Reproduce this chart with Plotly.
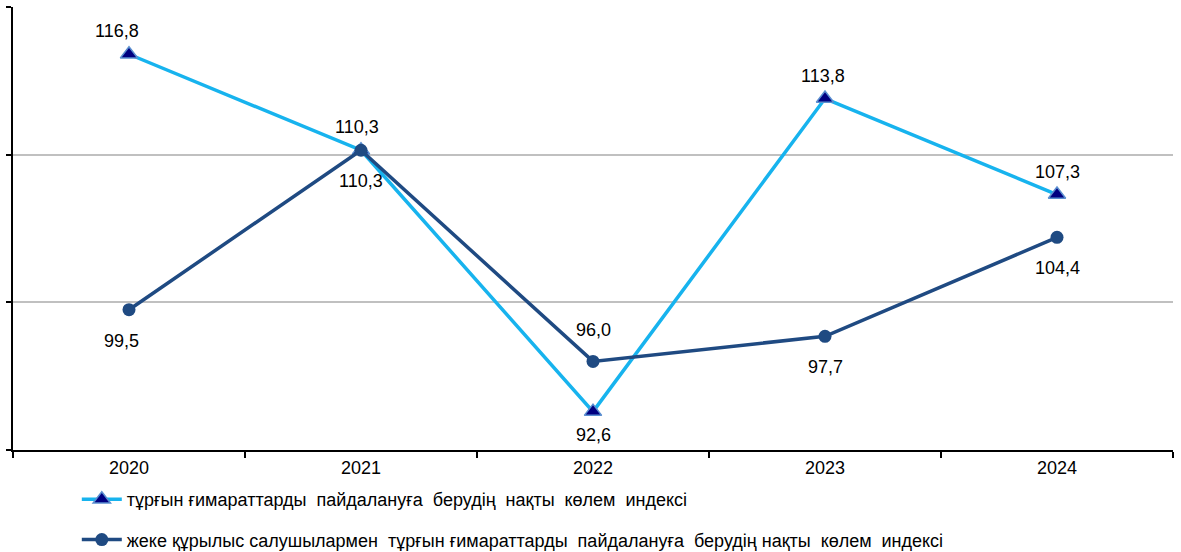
import plotly.graph_objects as go

years = ["2020", "2021", "2022", "2023", "2024"]
total_index = [116.8, 110.3, 92.6, 113.8, 107.3]
individual_index = [99.5, 110.3, 96.0, 97.7, 104.4]
name_total = "тұрғын ғимараттарды  пайдалануға  берудің  нақты  көлем  индексі"
name_individual = "жеке құрылыс салушылармен  тұрғын ғимараттарды  пайдалануға  берудің нақты  көлем  индексі"

# label side: +1 above, -1 below
total_side = [1, 1, -1, 1, 1]
indiv_side = [-1, -1, 1, -1, -1]
total_dx = [-12, -4, 0, -2, 0]
indiv_dx = [-8, 0, 0, 0, 0]

FONT = "Arial, Liberation Sans"
FS = 18

def fmt(v):
    return f"{v:.1f}".replace(".", ",")

fig = go.Figure()
fig.add_trace(go.Scatter(
    x=years, y=total_index, name=name_total.replace("  ", "\u00a0 "),
    mode="lines+markers",
    line=dict(color="#17B3EE", width=3.5),
    marker=dict(symbol="triangle-up", size=15, color="#000080",
                line=dict(color="#5B8FD0", width=1.5)),
    legendgroup="a",
))
fig.add_trace(go.Scatter(
    x=years, y=individual_index, name=name_individual.replace("  ", "\u00a0 "),
    mode="lines+markers",
    line=dict(color="#1F4A82", width=3.5),
    marker=dict(symbol="circle", size=13, color="#1F4A82"),
    legendgroup="b",
))

# category axis: annotation x given as the category's serial index
for i, (v, s, dx) in enumerate(zip(total_index, total_side, total_dx)):
    fig.add_annotation(x=i, y=v, xref="x", yref="y", text=fmt(v), showarrow=False,
                       yshift=23 * s, xshift=dx,
                       font=dict(family=FONT, size=FS, color="#000"))
for i, (v, s, dx) in enumerate(zip(individual_index, indiv_side, indiv_dx)):
    fig.add_annotation(x=i, y=v, xref="x", yref="y", text=fmt(v), showarrow=False,
                       yshift=31 * s, xshift=dx,
                       font=dict(family=FONT, size=FS, color="#000"))

fig.update_layout(
    width=1181, height=552,
    margin=dict(l=13, r=8, t=7, b=102, autoexpand=False),
    paper_bgcolor="white", plot_bgcolor="white",
    font=dict(family=FONT, size=FS, color="#000000"),
    showlegend=True,
    legend=dict(orientation="v", x=0.055, xanchor="left", y=-0.07, yanchor="top",
                font=dict(size=FS), tracegroupgap=14, bgcolor="rgba(0,0,0,0)",
                itemwidth=40),
    xaxis=dict(type="category", showgrid=False, showline=True, linecolor="#000000",
               linewidth=2, ticks="outside", tickson="boundaries", ticklen=6,
               tickcolor="#000000", tickwidth=1.5,
               tickfont=dict(size=FS), range=[-0.5, 4.5]),
    yaxis=dict(range=[90, 120], dtick=10, showticklabels=False, showgrid=True,
               gridcolor="#C0C0C0", gridwidth=1.5, showline=True, linecolor="#000000",
               linewidth=2, ticks="outside", ticklen=5, tickcolor="#000000",
               tickwidth=1.5, zeroline=False),
)

fig.write_html("out.html", config={"displayModeBar": False},
               post_script="document.body.style.margin='0px';")
